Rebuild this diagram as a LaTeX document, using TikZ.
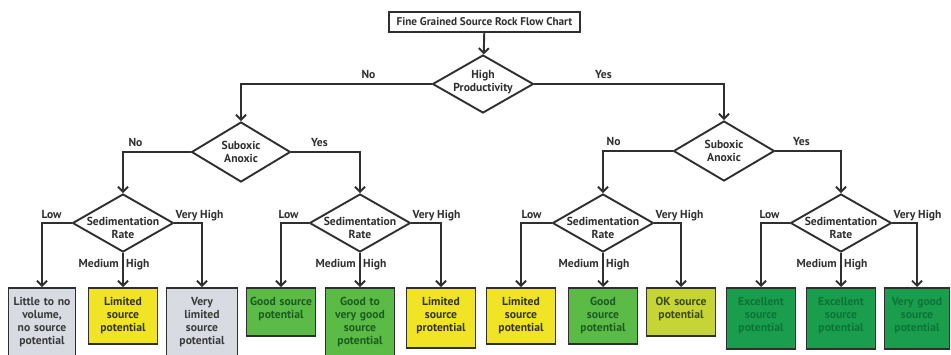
\documentclass[tikz,border=0pt]{standalone}
\usepackage{fontspec}
\setmainfont{PT Sans}
\usetikzlibrary{shapes.geometric,arrows.meta}
\definecolor{ink}{HTML}{2F2F2F}
\definecolor{greyfill}{HTML}{D8DCE2}
\definecolor{yellowfill}{HTML}{F0E425}
\definecolor{greenfill}{HTML}{5CBA47}
\definecolor{okfill}{HTML}{C6D435}
\definecolor{deepfill}{HTML}{1A9E4E}
\definecolor{greytext}{HTML}{3A3A3A}
\definecolor{yellowtext}{HTML}{35351F}
\definecolor{greentext}{HTML}{1B5C20}
\definecolor{oktext}{HTML}{3B4A18}
\definecolor{deeptext}{HTML}{0C7436}
\begin{document}
\begin{tikzpicture}[x=1pt,y=-1pt,
  font=\fontsize{11.6}{13}\selectfont\bfseries,
  line/.style={draw=ink,line width=1.9pt},
  arr/.style={line,-{Straight Barb[length=5pt,width=10pt]}},
  decision/.style={shape=diamond,draw=ink,line width=1.9pt,fill=white,
    inner sep=0pt,minimum width=101pt,minimum height=58pt},
  dtext/.style={align=center,text=ink,inner sep=0pt},
  lbl/.style={text=ink,inner sep=0pt,anchor=base},
  outcome/.style={draw=ink,line width=1.9pt,anchor=north,align=center,
    inner xsep=1pt,inner ysep=7pt,text height=11pt,text width=67pt},
  grey/.style={outcome,fill=greyfill,text=greytext},
  yellow/.style={outcome,fill=yellowfill,text=yellowtext},
  green/.style={outcome,fill=greenfill,text=greentext},
  ok/.style={outcome,fill=okfill,text=oktext},
  deep/.style={outcome,fill=deepfill,text=deeptext},
]
\useasboundingbox (0,0) rectangle (951,354);
\clip (0,0) rectangle (951,354);

% title and first decision
\node[draw=ink,line width=1.7pt,minimum width=191pt,minimum height=20pt,inner sep=0pt,text=ink,
  font=\fontsize{11.2}{13}\selectfont\bfseries]
  (title) at (484.5,22) {Fine Grained Source Rock Flow Chart};
\node[decision] (prod) at (483,84) {};
\node[dtext] (prodtext) at (483,82) {High\\Productivity};

% oxygen decisions
\node[decision,minimum width=99pt,minimum height=60pt] (subA) at (241,152) {};
\node[dtext] (subAtext) at (241,152) {Suboxic\\Anoxic};
\node[decision,minimum width=101pt,minimum height=60pt] (subB) at (724,151) {};
\node[dtext] (subBtext) at (724,151) {Suboxic\\Anoxic};

% sedimentation decisions
\foreach \n/\x in {sedA/123,sedB/360,sedC/603,sedD/841}{
  \node[decision] (\n) at (\x,223) {};
  \node[dtext] (\n text) at (\x,228) {Sedimentation\\Rate};
}

% outcomes
\node[grey,text width=65pt,text depth=44pt] (b1) at (42,287) {Little to no\\volume,\\no source\\potential};
\node[yellow,text depth=31pt] (b2) at (123,287) {Limited\\source\\potential};
\node[grey,text width=69pt,text depth=44pt] (b3) at (202,287) {Very\\limited\\source\\potential};
\node[green,text depth=23pt] (b4) at (281,287) {Good source\\potential};
\node[green,text depth=44pt] (b5) at (360,287) {Good to\\very good\\source\\potential};
\node[yellow,text depth=35pt] (b6) at (441,287) {Limited\\source\\protential};
\node[yellow,text depth=31pt] (b7) at (521,287) {Limited\\source\\potential};
\node[green,text depth=31pt] (b8) at (603,287) {Good\\source\\potential};
\node[ok,text depth=23pt] (b9) at (681,287) {OK source\\potential};
\node[deep,text depth=36pt] (b10) at (761,287) {Excellent\\source\\potential};
\node[deep,text depth=36pt] (b11) at (841,287) {Excellent\\source\\potential};
\node[deep,text width=63pt,text depth=36pt] (b12) at (917,287) {Very good\\source\\potential};

% connectors
\draw[arr] (title) -- (prod);
\draw[arr] (prod.west) -| (subA.north);
\draw[arr] (prod.east) -| (subB.north);
\draw[arr] (subA.west) -| (sedA.north);
\draw[arr] (subA.east) -| (sedB.north);
\draw[arr] (subB.west) -| (sedC.north);
\draw[arr] (subB.east) -| (sedD.north);
\draw[arr] (sedA.west) -| (b1.north);
\draw[arr] (sedA.south) -- (b2.north);
\draw[arr] (sedA.east) -| (b3.north);
\draw[arr] (sedB.west) -| (b4.north);
\draw[arr] (sedB.south) -- (b5.north);
\draw[arr] (sedB.east) -| (b6.north);
\draw[arr] (sedC.west) -| (b7.north);
\draw[arr] (sedC.south) -- (b8.north);
\draw[arr] (sedC.east) -| (b9.north);
\draw[arr] (sedD.west) -| (b10.north);
\draw[arr] (sedD.south) -- (b11.north);
\draw[arr] (sedD.east) -| (b12.north);

% branch labels
\node[lbl] (prodNo) at ([xshift=-63pt,yshift=5.5pt]prod.west) {No};
\node[lbl] (prodYes) at ([xshift=69pt,yshift=5.5pt]prod.east) {Yes};
\node[lbl] (subANo) at ([xshift=-55pt,yshift=5.5pt]subA.west) {No};
\node[lbl] (subAYes) at ([xshift=28pt,yshift=5.5pt]subA.east) {Yes};
\node[lbl] (subBNo) at ([xshift=-59pt,yshift=5.5pt]subB.west) {No};
\node[lbl] (subBYes) at ([xshift=26pt,yshift=5.5pt]subB.east) {Yes};
\foreach \n in {sedA,sedB,sedC,sedD}{
  \node[lbl] (\n low) at ([xshift=-20pt,yshift=5pt]\n.west) {Low};
  \node[lbl,anchor=base west] (\n vhigh) at ([xshift=1pt,yshift=5pt]\n.east) {Very High};
  \node[lbl,anchor=base east] (\n med) at ([xshift=-4pt,yshift=-15pt]\n.south) {Medium};
  \node[lbl,anchor=base west] (\n high) at ([xshift=3pt,yshift=-15pt]\n.south) {High};
}
\end{tikzpicture}
\end{document}
